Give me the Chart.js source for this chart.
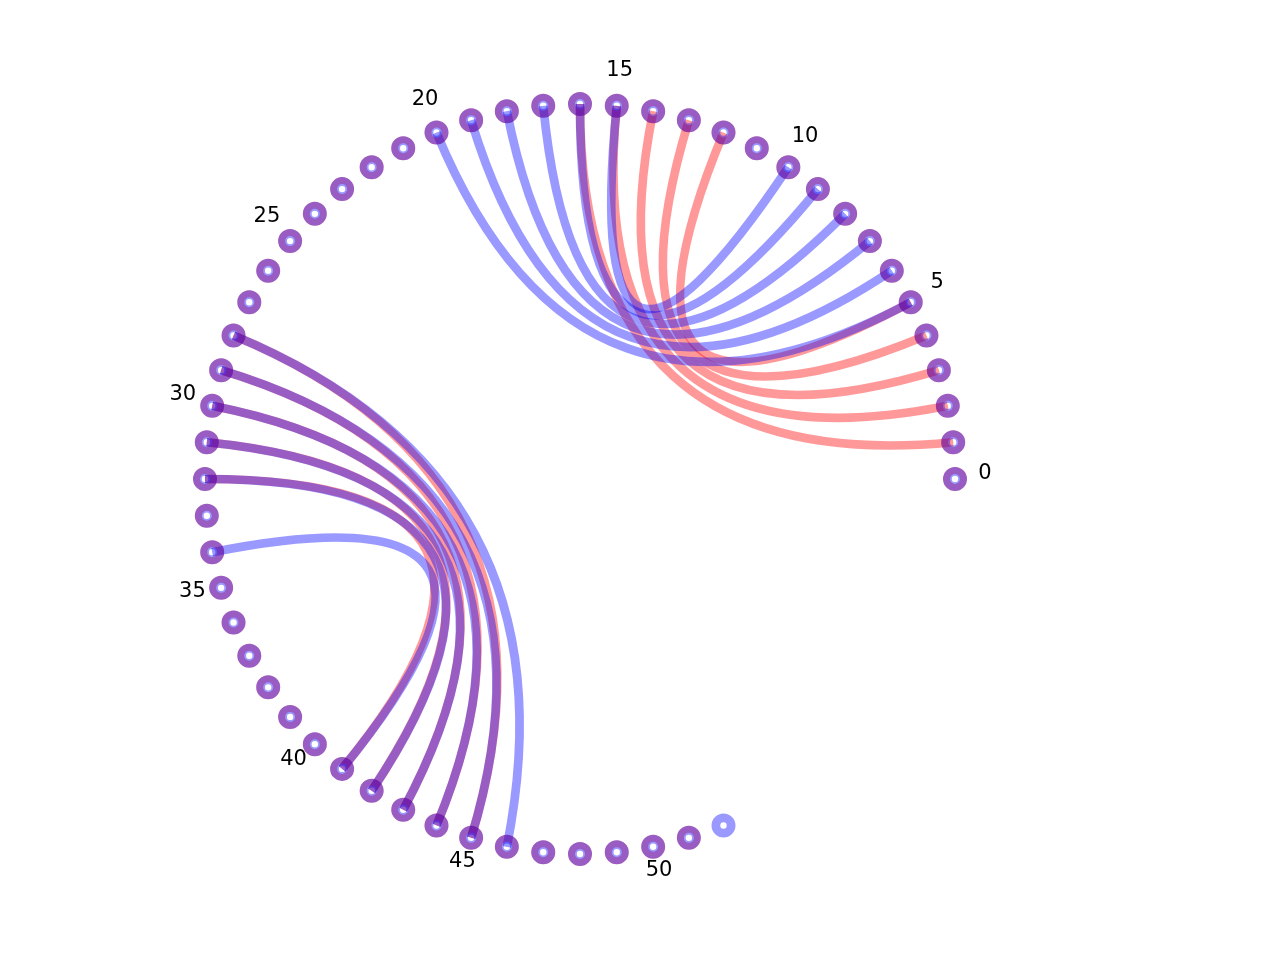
<!DOCTYPE html>
<html>
<head>
<meta charset="utf-8">
<script src="https://cdn.jsdelivr.net/npm/chart.js@4/dist/chart.umd.min.js"></script>
<style>
html,body{margin:0;padding:0;background:#ffffff;overflow:hidden;}
#wrap{width:1280px;height:960px;position:relative;}
</style>
</head>
<body>
<div id="wrap"><canvas id="c" width="1280" height="960"></canvas></div>
<script>
// ---- data ----
const slotCount = 64;          // positions around the circle
const redNodeCount = 52;       // nodes 0..51 in red graph
const blueNodeCount = 53;      // nodes 0..52 in blue graph
const redEdges = [[1,16],[2,15],[3,14],[4,13],[5,12],[28,45],[29,44],[30,43],[31,42],[32,41]];
const blueEdges = [[5,20],[6,19],[7,18],[8,17],[9,16],[10,15],[28,46],[29,45],[30,44],[31,43],[32,42],[34,41]];
const labelTicks = [0,5,10,15,20,25,30,35,40,45,50];

const RED = 'rgba(255,0,0,0.4)';
const BLUE = 'rgba(0,0,255,0.4)';

function nodePos(i){
  const a = 2*Math.PI*i/slotCount;
  return {x: Math.cos(a), y: Math.sin(a)};
}
function nodeList(n){
  const out = [];
  for(let i=0;i<n;i++) out.push(nodePos(i));
  return out;
}

const edgePlugin = {
  id: 'edges',
  beforeDatasetsDraw(chart){
    const ctx = chart.ctx, xs = chart.scales.x, ys = chart.scales.y;
    const cx = xs.getPixelForValue(0), cy = ys.getPixelForValue(0);
    ctx.save();
    [[redEdges, RED],[blueEdges, BLUE]].forEach(([edges,color])=>{
      ctx.strokeStyle = color;
      ctx.lineWidth = 8.7;
      ctx.lineCap = 'butt';
      edges.forEach(([a,b])=>{
        const p = nodePos(a), q = nodePos(b);
        ctx.beginPath();
        ctx.moveTo(xs.getPixelForValue(p.x), ys.getPixelForValue(p.y));
        ctx.quadraticCurveTo(cx, cy, xs.getPixelForValue(q.x), ys.getPixelForValue(q.y));
        ctx.stroke();
      });
    });
    ctx.restore();
  },
  afterDatasetsDraw(chart){
    const ctx = chart.ctx, xs = chart.scales.x, ys = chart.scales.y;
    ctx.save();
    ctx.fillStyle = '#000000';
    ctx.font = '21px "DejaVu Sans"';
    ctx.textAlign = 'center';
    ctx.textBaseline = 'alphabetic';
    labelTicks.forEach(t=>{
      const p = nodePos(t);
      ctx.fillText(String(t), xs.getPixelForValue(p.x*1.08), ys.getPixelForValue(p.y*1.08));
    });
    ctx.restore();
  }
};

new Chart(document.getElementById('c'), {
  type: 'scatter',
  data: {
    datasets: [
      {
        label: 'red',
        data: nodeList(redNodeCount),
        order: 2,
        pointRadius: 8.5,
        pointBorderWidth: 7,
        pointBorderColor: RED,
        pointBackgroundColor: 'rgba(0,0,0,0)',
        pointHoverRadius: 8.5
      },
      {
        label: 'blue',
        data: nodeList(blueNodeCount),
        order: 1,
        pointRadius: 7.6,
        pointBorderWidth: 8.8,
        pointBorderColor: BLUE,
        pointBackgroundColor: 'rgba(0,0,0,0)',
        pointHoverRadius: 7.6
      }
    ]
  },
  options: {
    responsive: false,
    maintainAspectRatio: false,
    animation: false,
    devicePixelRatio: 1,
    layout: {padding: 0, autoPadding: false},
    plugins: {legend: {display: false}, tooltip: {enabled: false}},
    events: [],
    scales: {
      x: {type: 'linear', min: -580/375, max: 700/375, display: false},
      y: {type: 'linear', min: -481/375, max: 479/375, display: false}
    }
  },
  plugins: [edgePlugin]
});
</script>
</body>
</html>
